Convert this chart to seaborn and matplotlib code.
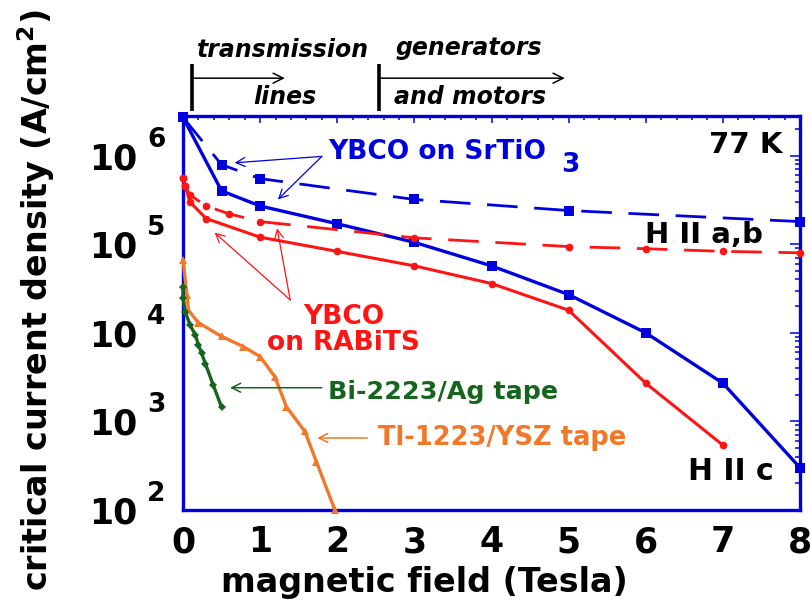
import matplotlib
matplotlib.use("Agg")
import matplotlib.pyplot as plt
import matplotlib.ticker as mticker
import matplotlib.transforms as mtransforms
import pandas as pd
import seaborn as sns

# ---- data: critical current density (A/cm^2) vs magnetic field (T) at 77 K ----
field_sto_ab = [0, 0.5, 1, 3, 5, 8]
jc_sto_ab = [2.7e6, 7.9e5, 5.5e5, 3.2e5, 2.4e5, 1.8e5]

field_sto_c = [0, 0.5, 1, 2, 3, 4, 5, 6, 7, 8]
jc_sto_c = [2.7e6, 4.0e5, 2.7e5, 1.7e5, 1.05e5, 5.7e4, 2.7e4, 1.0e4, 2.7e3, 3.0e2]

field_rabits_ab = [0, 0.03, 0.09, 0.3, 0.6, 1, 3, 5, 6, 7, 8]
jc_rabits_ab = [5.6e5, 4.5e5, 3.6e5, 2.7e5, 2.2e5, 1.8e5, 1.18e5, 9.4e4, 8.9e4, 8.3e4, 8.0e4]

field_rabits_c = [0, 0.03, 0.09, 0.3, 1, 2, 3, 4, 5, 6, 7]
jc_rabits_c = [5.6e5, 4.5e5, 3.0e5, 1.95e5, 1.2e5, 8.3e4, 5.7e4, 3.6e4, 1.8e4, 2.7e3, 5.4e2]

field_bi2223 = [0, 0, 0.03, 0.09, 0.16, 0.2, 0.24, 0.29, 0.39, 0.5]
jc_bi2223 = [3.3e4, 2.45e4, 1.73e4, 1.23e4, 9.5e3, 7.3e3, 5.9e3, 4.5e3, 2.6e3, 1.45e3]

field_tl1223 = [0, 0.05, 0.07, 0.2, 0.5, 0.78, 1.0, 1.19, 1.34, 1.58, 1.73, 1.97]
jc_tl1223 = [6.7e4, 2.7e4, 1.8e4, 1.3e4, 9.1e3, 7.0e3, 5.4e3, 3.2e3, 1.47e3, 7.7e2, 3.5e2, 1.0e2]

x_ticks = [0, 1, 2, 3, 4, 5, 6, 7, 8]
y_decades = [2, 3, 4, 5, 6]

BLUE = "#0000DD"
RED = "#FF1414"
ORANGE = "#F07828"
GREEN = "#16641E"

sns.set_theme(style="white")
plt.rcParams["font.family"] = ["DejaVu Sans"]
plt.rcParams["font.weight"] = "bold"
plt.rcParams["text.color"] = "black"
plt.rcParams["axes.labelcolor"] = "black"
plt.rcParams["xtick.labelcolor"] = "black"
plt.rcParams["ytick.labelcolor"] = "black"

fig = plt.figure(figsize=(8.11, 6.0), dpi=100)
ax = fig.add_axes([183 / 811, 90 / 600, 617 / 811, 394 / 600])
ax.set_yscale("log")
ax.set_xlim(0, 8)
ax.set_ylim(100, 2.8e6)


def draw(xs, ys, color, marker, ms, lw, ls="-"):
    df = pd.DataFrame({"B": xs, "Jc": ys})
    sns.lineplot(data=df, x="B", y="Jc", ax=ax, color=color, marker=marker,
                 markersize=ms, markeredgewidth=0, linewidth=lw, linestyle=ls,
                 estimator=None, sort=False, clip_on=False, zorder=3)


dash = (0, (11, 6))
draw(field_sto_ab, jc_sto_ab, BLUE, "s", 7, 2.0, dash)
draw(field_sto_c, jc_sto_c, BLUE, "s", 7, 2.4)
draw(field_rabits_ab, jc_rabits_ab, RED, "o", 5.5, 2.0, dash)
draw(field_rabits_c, jc_rabits_c, RED, "o", 5.5, 2.2)
draw(field_tl1223, jc_tl1223, ORANGE, "^", 5.5, 2.4)
draw(field_bi2223, jc_bi2223, GREEN, "D", 4.5, 2.4)

# ---- axes styling ----
for sp in ax.spines.values():
    sp.set_color(BLUE)
    sp.set_linewidth(2.4)
    sp.set_visible(True)

ax.set_xticks(x_ticks)
ax.set_xticklabels([str(v) for v in x_ticks])
ax.xaxis.set_minor_locator(mticker.MultipleLocator(0.2))
ax.set_yticks([10.0 ** d for d in y_decades])
ax.yaxis.set_major_formatter(mticker.FixedFormatter(["10"] * len(y_decades)))
ax.yaxis.set_minor_locator(mticker.LogLocator(base=10, subs=range(2, 10)))
ax.yaxis.set_minor_formatter(mticker.NullFormatter())

ax.tick_params(which="both", direction="in", top=True, right=True,
               color=BLUE, labelcolor="black", width=1.1)
ax.tick_params(axis="x", which="major", length=5, pad=11, labelsize=25)
ax.tick_params(axis="x", which="minor", length=3)
ax.tick_params(axis="y", which="major", length=7, pad=33, labelsize=25)
ax.tick_params(axis="y", which="minor", length=3.5)
for lab in ax.get_xticklabels() + ax.get_yticklabels():
    lab.set_fontweight("bold")

for d in y_decades:
    ax.annotate(str(d), xy=(0, 10.0 ** d), xycoords=("axes fraction", "data"),
                xytext=(-26, 6.5), textcoords="offset points", ha="left",
                va="baseline", fontsize=19, fontweight="bold", color="black",
                annotation_clip=False)

ax.set_xlabel("magnetic field (Tesla)", fontsize=24, fontweight="bold")
ax.xaxis.set_label_coords(0.392, -0.142)
ax.xaxis.label.set_va("top")
ax.set_ylabel("critical current density (A/cm$^{\\mathbf{2}}$)", fontsize=24,
              fontweight="bold")
ax.yaxis.set_label_coords(-0.205, 0.533)

# ---- application ranges above the plot ----
top = mtransforms.blended_transform_factory(ax.transData, ax.transAxes)
for xb in (0.12, 2.54):
    ax.plot([xb, xb], [1.013, 1.132], transform=top, color="black", lw=2.6,
            clip_on=False, solid_capstyle="butt")
for x0, x1 in ((0.12, 1.32), (2.54, 4.95)):
    ax.annotate("", xy=(x1, 1.096), xytext=(x0, 1.096), xycoords=top,
                textcoords=top, annotation_clip=False,
                arrowprops=dict(arrowstyle="->", lw=1.1, color="black",
                                shrinkA=0, shrinkB=0, mutation_scale=18))
kw_top = dict(transform=top, ha="center", va="center", fontsize=17,
              fontweight="bold", fontstyle="italic", color="black", clip_on=False)
ax.text(1.30, 1.168, "transmission", **kw_top)
ax.text(1.32, 1.048, "lines", **kw_top)
ax.text(3.70, 1.173, "generators", **kw_top)
ax.text(3.72, 1.048, "and motors", **kw_top)

# ---- curve labels ----
ax.text(7.77, 1.32e6, "77 K", ha="right", va="center", fontsize=21,
        fontweight="bold", color="black")
ax.text(5.99, 1.28e5, "H II a,b", ha="left", va="center", fontsize=21,
        fontweight="bold", color="black")
ax.text(6.55, 270, "H II c", ha="left", va="center", fontsize=21.5,
        fontweight="bold", color="black")

ax.text(1.88, 1.11e6, "YBCO on SrTiO", ha="left", va="center", fontsize=19,
        fontweight="bold", color=BLUE)
ax.text(4.91, 7.9e5, "3", ha="left", va="center", fontsize=19,
        fontweight="bold", color=BLUE)
ax.text(2.08, 1.07e4, "YBCO\non RABiTS", ha="center", va="center", fontsize=19,
        fontweight="bold", color=RED, linespacing=1.0)
ax.text(1.88, 2.15e3, "Bi-2223/Ag tape", ha="left", va="center", fontsize=18.3,
        fontweight="bold", color=GREEN)
ax.text(2.53, 650, "Tl-1223/YSZ tape", ha="left", va="center", fontsize=18.5,
        fontweight="bold", color=ORANGE)


def pointer(xy_from, xy_to, color, lw=0.9):
    ax.annotate("", xy=xy_to, xytext=xy_from, xycoords="data",
                arrowprops=dict(arrowstyle="->", lw=lw, color=color,
                                shrinkA=0, shrinkB=0, mutation_scale=16))


pointer((1.80, 9.8e5), (0.67, 8.3e5), BLUE)
pointer((1.80, 9.8e5), (1.23, 3.2e5), BLUE)
pointer((1.39, 2.35e4), (0.41, 1.35e5), RED)
pointer((1.39, 2.35e4), (1.22, 1.51e5), RED)
pointer((1.80, 2.4e3), (0.61, 2.4e3), GREEN, 1.1)
pointer((2.39, 650), (1.74, 650), ORANGE, 1.1)

fig.savefig("out.png", dpi=100)
